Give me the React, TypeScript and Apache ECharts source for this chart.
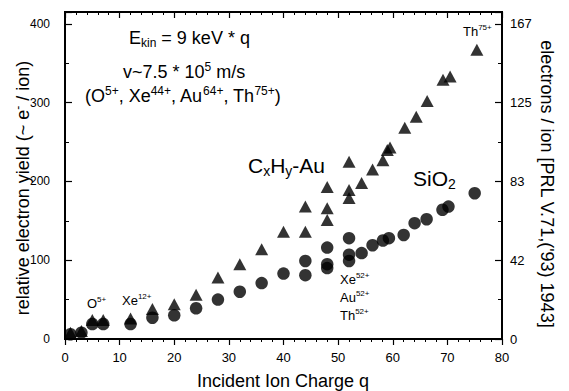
import React, { useEffect, useRef } from "react";
import * as echarts from "echarts";

// Incident ion charge q (x) and relative electron yield (left axis)
const chargeCxHyAu = [1, 3, 5, 7, 12, 16, 20, 24, 28, 32, 36, 40, 44, 44, 48, 48, 48, 52, 52, 52, 54.3, 56.3, 58.2, 59, 59.5, 62.2, 64.3, 66.3, 69.2, 70.5, 75.4];
const yieldCxHyAu = [8, 10, 24, 24, 26, 38, 44, 56, 78, 95, 114, 136, 136, 168, 151, 166, 193, 179, 189, 225, 198, 215, 227, 240, 243, 268, 282, 302, 329, 333, 367];
const chargeSiO2 = [1, 3, 5, 7, 12, 16, 20, 24, 28, 32, 36, 40, 44, 44, 48, 48, 48, 52, 52, 52, 54.3, 56.3, 58.2, 59.3, 62, 64, 66.2, 69.1, 70.2, 75];
const yieldSiO2 = [6, 8, 19, 19, 19, 27, 30, 39, 50, 60, 71, 83, 81, 99, 90, 95, 116, 99, 107, 128, 109, 119, 125, 128, 132, 147, 152, 164, 168, 185];

const xMin = 0;
const xMax = 80;
const xStep = 10;
const leftMax = 415;
const leftStep = 100;
const yieldPerElectron = 2.4; // left-axis units per electron on the right axis

const FONT = "'Liberation Sans', Arial, Helvetica, sans-serif";

const GRID = { left: 65, right: 67, top: 12, bottom: 52 };
const W = 569;
const H = 391;

function rich(fs: number) {
  return {
    m: { fontSize: fs, fontFamily: FONT, fill: "#000", color: "#000", lineHeight: Math.round(fs * 1.2) },
    sup: { fontSize: Math.round(fs * 0.65), fontFamily: FONT, fill: "#000", color: "#000", verticalAlign: "top" },
    sub: { fontSize: Math.round(fs * 0.65), fontFamily: FONT, fill: "#000", color: "#000", verticalAlign: "bottom" },
  };
}

function label(text: string, x: number, y: number, fs: number, extra: any = {}) {
  return {
    type: "text",
    x,
    y,
    rotation: extra.rotation || 0,
    style: {
      text,
      align: extra.align || "left",
      verticalAlign: "middle",
      rich: rich(fs),
      fill: "#000",
    },
    z: 100,
  };
}

// frame edges drawn as thin filled bars
function bar(x: number, y: number, w: number, h: number) {
  return {
    type: "rect",
    silent: true,
    z: 95,
    shape: { x, y, width: w, height: h },
    style: { fill: "#000", stroke: null },
  };
}

function axisLine() {
  return { show: true, onZero: false, lineStyle: { color: "#000", width: 1.5 } };
}

export default function App() {
  const ref = useRef<HTMLDivElement>(null);
  useEffect(() => {
    if (!ref.current) return;
    const chart = echarts.init(ref.current, undefined, { renderer: "svg" });
    const x0 = GRID.left;
    const y0 = GRID.top;
    const pw = W - GRID.left - GRID.right;
    const ph = H - GRID.top - GRID.bottom;
    const t = 2;
    const option: any = {
      animation: false,
      grid: { ...GRID },
      xAxis: [
        {
          type: "value",
          position: "bottom",
          min: xMin,
          max: xMax,
          interval: xStep,
          axisLine: axisLine(),
          axisTick: { show: true, inside: false, length: 6, lineStyle: { color: "#000", width: 1.2 } },
          minorTick: { show: true, splitNumber: 5, length: 3, lineStyle: { color: "#000", width: 1 } },
          axisLabel: { color: "#000", fontFamily: FONT, fontSize: 13, margin: 12 },
          splitLine: { show: false },
        },
        {
          type: "value",
          position: "top",
          min: xMin,
          max: xMax,
          interval: xStep,
          axisLine: axisLine(),
          axisTick: { show: true, inside: true, length: 6, lineStyle: { color: "#000", width: 1.2 } },
          minorTick: { show: true, splitNumber: 5, length: 3, lineStyle: { color: "#000", width: 1 } },
          axisLabel: { show: false },
          splitLine: { show: false },
        },
      ],
      yAxis: [
        {
          type: "value",
          position: "left",
          min: 0,
          max: leftMax,
          interval: leftStep,
          axisLine: axisLine(),
          axisTick: { show: true, inside: true, length: 7, lineStyle: { color: "#000", width: 1.2 } },
          minorTick: { show: true, splitNumber: 2, length: 4, lineStyle: { color: "#000", width: 1 } },
          axisLabel: { color: "#000", fontFamily: FONT, fontSize: 12, margin: 15, showMaxLabel: false },
          splitLine: { show: false },
        },
        {
          type: "value",
          position: "right",
          min: 0,
          max: leftMax / yieldPerElectron,
          interval: leftStep / yieldPerElectron,
          axisLine: axisLine(),
          axisTick: { show: true, inside: true, length: 7, lineStyle: { color: "#000", width: 1.2 } },
          minorTick: { show: true, splitNumber: 2, length: 4, lineStyle: { color: "#000", width: 1 } },
          axisLabel: {
            color: "#000",
            fontFamily: FONT,
            fontSize: 13,
            margin: 8,
            showMaxLabel: false,
            formatter: (v: number) => String(Math.round(v)),
          },
          splitLine: { show: false },
        },
      ],
      series: [
        {
          name: "CxHy-Au",
          type: "scatter",
          xAxisIndex: 0,
          yAxisIndex: 0,
          symbol: "triangle",
          symbolSize: [13, 12],
          itemStyle: { color: "#000" },
          data: chargeCxHyAu.map((q, i) => [q, yieldCxHyAu[i]]),
        },
        {
          name: "SiO2",
          type: "scatter",
          xAxisIndex: 0,
          yAxisIndex: 0,
          symbol: "circle",
          symbolSize: 12.5,
          itemStyle: { color: "#000" },
          data: chargeSiO2.map((q, i) => [q, yieldSiO2[i]]),
        },
      ],
      graphic: [
        bar(x0 - t / 2, y0 - t / 2, t, ph + t),
        bar(x0 + pw - t / 2, y0 - t / 2, t, ph + t),
        bar(x0 - t / 2, y0 - t / 2, pw + t, t),
        bar(x0 - t / 2, y0 + ph - t / 2, pw + t, t),
        label("{m|E}{sub|kin}{m| = 9 keV * q}", 129, 38, 18),
        label("{m|v~7.5 * 10}{sup|5}{m| m/s}", 123, 72, 18),
        label("{m|(O}{sup|5+}{m|, Xe}{sup|44+}{m|, Au}{sup|64+}{m|, Th}{sup|75+}{m|)}", 85, 96, 18),
        label("{m|C}{sub|x}{m|H}{sub|y}{m|-Au}", 248, 165, 21),
        label("{m|SiO}{sub|2}", 413, 178, 21),
        label("{m|Th}{sup|75+}", 463, 31, 13),
        label("{m|O}{sup|5+}", 87, 303, 13),
        label("{m|Xe}{sup|12+}", 122, 300, 13),
        label("{m|Xe}{sup|52+}", 340, 279, 13),
        label("{m|Au}{sup|52+}", 340, 297, 13),
        label("{m|Th}{sup|52+}", 340, 315, 13),
        label("{m|Incident Ion Charge q}", 283, 381, 18, { align: "center" }),
        label("{m|relative electron yield (~ e}{sup|-}{m| / ion)}", 23, 188, 18, { align: "center", rotation: Math.PI / 2 }),
        label("{m|electrons / ion [PRL V.71,('93) 1943]}", 547, 184, 18, { align: "center", rotation: -Math.PI / 2 }),
      ],
    };
    chart.setOption(option);
    return () => chart.dispose();
  }, []);
  return <div ref={ref} style={{ position: "absolute", left: 0, top: 0, width: W, height: H }} />;
}
